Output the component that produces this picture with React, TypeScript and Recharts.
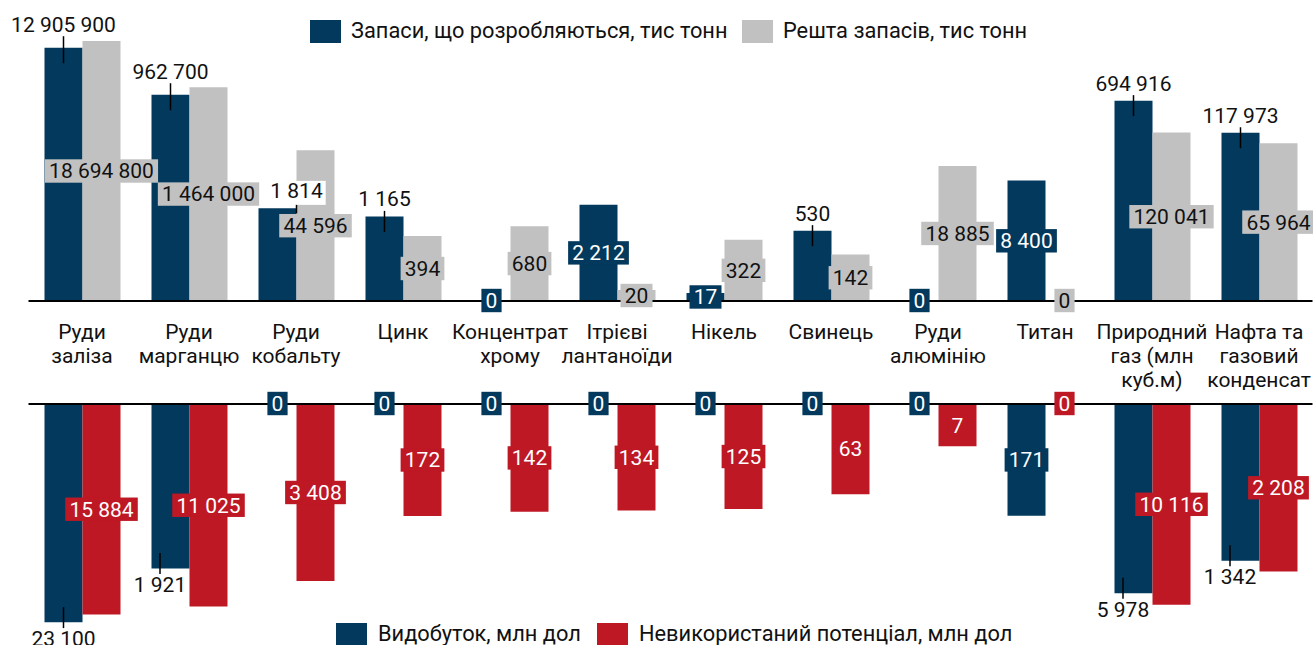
import React from 'react';
import { BarChart, Bar, XAxis, YAxis, LabelList } from 'recharts';

// ---------- data ----------
const categories = [
  'Руди\nзаліза',
  'Руди\nмарганцю',
  'Руди\nкобальту',
  'Цинк',
  'Концентрат\nхрому',
  'Ітрієві\nлантаноїди',
  'Нікель',
  'Свинець',
  'Руди\nалюмінію',
  'Титан',
  'Природний\nгаз (млн\nкуб.м)',
  'Нафта та\nгазовий\nконденсат',
];
const reservesDeveloped = [12905900, 962700, 1814, 1165, 0, 2212, 17, 530, 0, 8400, 694916, 117973];
const reservesRemaining = [18694800, 1464000, 44596, 394, 680, 20, 322, 142, 18885, 0, 120041, 65964];
const production = [23100, 1921, 0, 0, 0, 0, 0, 0, 0, 171, 5978, 1342];
const potential = [15884, 11025, 3408, 172, 142, 134, 125, 63, 7, 0, 10116, 2208];

const legendTop = ['Запаси, що розробляються, тис тонн', 'Решта запасів, тис тонн'];
const legendBottom = ['Видобуток, млн дол', 'Невикористаний потенціал, млн дол'];

// ---------- styles ----------
const DARK = '#03395C';
const GREY = '#C1C1C1';
const RED = '#BE1824';
const INK = '#111111';
const FONT = 'Roboto, "Noto Sans", sans-serif';
const FS = 21;
const LEGEND_FS = 21.8;

const TOP_MIN = 10.9;
const BOTTOM_MIN = 1;

type Mode = 'above' | 'below' | 'mid';
const topDarkModes: Mode[] = ['above', 'above', 'above', 'above', 'mid', 'mid', 'mid', 'above', 'mid', 'mid', 'above', 'above'];
const topDarkLift = [6, 6, 0, 0, 0, 0, 0, 0, 0, 0, 0, 0];
const topDarkDx = [0, 0, 19, 0, 0, 0, 0, 0, 0, 0, 0, 0];
const topDarkBoxed = [false, false, true, false, false, false, false, false, false, false, false, false];
const bottomDarkModes: Mode[] = ['below', 'below', 'mid', 'mid', 'mid', 'mid', 'mid', 'mid', 'mid', 'mid', 'below', 'below'];
const bottomDarkDx = [0, -10.5, 0, 0, 0, 0, 0, 0, 0, 0, -10.5, -10.5];
const allMid: Mode[] = categories.map(() => 'mid');

const topData = categories.map((name, i) => ({
  name,
  idx: i,
  dev: reservesDeveloped[i] > 0 ? reservesDeveloped[i] : TOP_MIN,
  rest: reservesRemaining[i] > 0 ? reservesRemaining[i] : TOP_MIN,
}));
const bottomData = categories.map((name, i) => ({
  name,
  idx: i,
  prod: production[i] > 0 ? production[i] : BOTTOM_MIN,
  pot: potential[i] > 0 ? potential[i] : BOTTOM_MIN,
}));

function fmt(v: number): string {
  return String(v).replace(/\B(?=(\d{3})+(?!\d))/g, ' ');
}
function textWidth(s: string): number {
  let w = 0;
  for (const c of s) w += c === ' ' ? 0.2476 : 0.5615;
  return w * FS;
}

interface LabelCfg {
  values: number[];
  modes: Mode[];
  boxFill: string;
  textFill: string;
  dx?: number[];
  lift?: number[];
  boxed?: boolean[];
}

// label content: LabelList is fed the category index (dataKey "idx")
const makeLabel = (cfg: LabelCfg) => (props: any) => {
  const vb = props.viewBox ?? {};
  const x = Number(vb.x ?? props.x);
  const y = Number(vb.y ?? props.y);
  const w = Number(vb.width ?? props.width);
  const h = Number(vb.height ?? props.height);
  const i = Number(props.value);
  if (!Number.isFinite(x) || !Number.isFinite(y) || !Number.isFinite(i)) return null;
  const txt = fmt(cfg.values[i]);
  const cx = x + w / 2 + (cfg.dx ? cfg.dx[i] : 0);
  const top = Math.min(y, y + (h || 0));
  const bot = Math.max(y, y + (h || 0));
  const mode = cfg.modes[i];
  const tw = textWidth(txt);
  const textProps = { fontFamily: FONT, fontSize: FS, textAnchor: 'middle' as const };
  if (mode === 'mid') {
    const cy = (top + bot) / 2;
    const bw = tw + 8.4;
    return (
      <g key={`l-${i}`}>
        <rect x={cx - bw / 2} y={cy - 11.7} width={bw} height={23.4} fill={cfg.boxFill} />
        <text x={cx} y={cy + 7.4} fill={cfg.textFill} {...textProps}>{txt}</text>
      </g>
    );
  }
  if (mode === 'above') {
    const lift = cfg.lift ? cfg.lift[i] : 0;
    const boxed = cfg.boxed ? cfg.boxed[i] : false;
    const base = top - 10 - lift;
    return (
      <g key={`l-${i}`}>
        <line x1={cx} x2={cx} y1={top - 5.5 - lift} y2={boxed ? top + 5 : top + 15.5} stroke="#000" strokeWidth={1.5} />
        {boxed && <rect x={cx - tw / 2 - 3} y={base - 17.5} width={tw + 6} height={24} fill="#FFFFFF" />}
        <text x={cx} y={base} fill={INK} {...textProps}>{txt}</text>
      </g>
    );
  }
  return (
    <g key={`l-${i}`}>
      <line x1={cx} x2={cx} y1={bot - 15.5} y2={bot + 5.5} stroke="#000" strokeWidth={1.5} />
      <text x={cx} y={bot + 23.5} fill={INK} {...textProps}>{txt}</text>
    </g>
  );
};

const CategoryTick = (props: any) => {
  const { x, payload } = props;
  const lines = String(payload.value).split('\n');
  return (
    <g>
      {lines.map((l, k) => (
        <text key={k} x={x} y={339 + k * 24} textAnchor="middle" fontSize={FS} fontFamily={FONT} fill={INK}>
          {l}
        </text>
      ))}
    </g>
  );
};

export default function App() {
  return (
    <div style={{ position: 'absolute', left: 0, top: 0, width: 1313, height: 645, overflow: 'hidden', background: '#fff', fontFamily: FONT }}>
      <div style={{ position: 'absolute', left: 0, top: 0 }}>
        <BarChart
          width={1313}
          height={401}
          data={topData}
          margin={{ top: 41, right: 0.5, bottom: 0, left: 28.5 }}
          barSize={38}
          barGap={0}
        >
          <XAxis
            dataKey="name"
            height={100}
            interval={0}
            tickLine={false}
            axisLine={{ stroke: '#000', strokeWidth: 2 }}
            tick={<CategoryTick />}
          />
          <YAxis hide scale="log" domain={[TOP_MIN, 18694800]} allowDataOverflow type="number" />
          <Bar dataKey="dev" fill={DARK} isAnimationActive={false} minPointSize={1}>
            <LabelList
              dataKey="idx"
              content={makeLabel({
                values: reservesDeveloped,
                modes: topDarkModes,
                boxFill: DARK,
                textFill: '#FFFFFF',
                dx: topDarkDx,
                lift: topDarkLift,
                boxed: topDarkBoxed,
              })}
            />
          </Bar>
          <Bar dataKey="rest" fill={GREY} isAnimationActive={false} minPointSize={1}>
            <LabelList
              dataKey="idx"
              content={makeLabel({ values: reservesRemaining, modes: allMid, boxFill: GREY, textFill: INK })}
            />
          </Bar>
        </BarChart>
      </div>
      <div style={{ position: 'absolute', left: 0, top: 380 }}>
        <BarChart
          width={1313}
          height={265}
          data={bottomData}
          margin={{ top: 23, right: 0.5, bottom: 22.4, left: 28.5 }}
          barSize={38}
          barGap={0}
        >
          <XAxis
            dataKey="name"
            orientation="top"
            height={1}
            interval={0}
            tickLine={false}
            tick={false}
            axisLine={{ stroke: '#000', strokeWidth: 2 }}
          />
          <YAxis hide reversed scale="log" domain={[BOTTOM_MIN, 23100]} allowDataOverflow type="number" />
          <Bar dataKey="prod" fill={DARK} isAnimationActive={false} minPointSize={1}>
            <LabelList
              dataKey="idx"
              content={makeLabel({
                values: production,
                modes: bottomDarkModes,
                boxFill: DARK,
                textFill: '#FFFFFF',
                dx: bottomDarkDx,
              })}
            />
          </Bar>
          <Bar dataKey="pot" fill={RED} isAnimationActive={false} minPointSize={1}>
            <LabelList
              dataKey="idx"
              content={makeLabel({ values: potential, modes: allMid, boxFill: RED, textFill: '#FFFFFF' })}
            />
          </Bar>
        </BarChart>
      </div>
      <svg width={1313} height={645} style={{ position: 'absolute', left: 0, top: 0, pointerEvents: 'none' }}>
        <rect x={310} y={20} width={31} height={23} fill={DARK} />
        <text x={351} y={37.5} fontSize={LEGEND_FS} fontFamily={FONT} fill={INK}>{legendTop[0]}</text>
        <rect x={742} y={20} width={31} height={23} fill={GREY} />
        <text x={783} y={37.5} fontSize={LEGEND_FS} fontFamily={FONT} fill={INK}>{legendTop[1]}</text>
        <rect x={336} y={623} width={31} height={23} fill={DARK} />
        <text x={378} y={641} fontSize={LEGEND_FS} fontFamily={FONT} fill={INK}>{legendBottom[0]}</text>
        <rect x={597} y={623} width={31} height={23} fill={RED} />
        <text x={639} y={641} fontSize={LEGEND_FS} fontFamily={FONT} fill={INK}>{legendBottom[1]}</text>
      </svg>
    </div>
  );
}
